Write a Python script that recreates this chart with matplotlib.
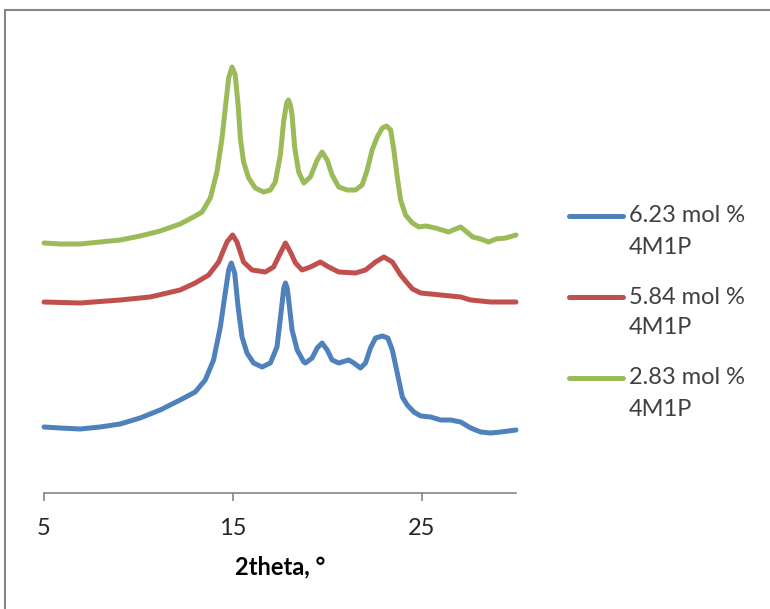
import matplotlib
matplotlib.use("Agg")
import matplotlib.pyplot as plt
from matplotlib.lines import Line2D
from matplotlib.patches import Rectangle

plt.rcParams['font.family'] = ['Lato', 'DejaVu Sans']

# ---- data ----
labels = ["6.23 mol %\n4M1P", "5.84 mol %\n4M1P", "2.83 mol %\n4M1P"]
colors = ["#4F81BD", "#C0504D", "#9BBB59"]

x_623 = [5.00, 5.85, 6.91, 7.97, 9.03, 10.09, 11.15, 12.21, 13.01, 13.54,
         13.98, 14.34, 14.60, 14.78, 14.92, 15.10, 15.28, 15.49, 15.75, 16.10,
         16.55, 16.99, 17.34, 17.57, 17.70, 17.79, 17.88, 17.96, 18.14, 18.41,
         18.76, 18.85, 19.20, 19.47, 19.73, 20.00, 20.26, 20.61, 21.14, 21.41,
         21.76, 22.03, 22.29, 22.56, 22.92, 23.21, 23.45, 23.71, 23.98, 24.24,
         24.59, 24.95, 25.48, 26.01, 26.54, 27.07, 27.60, 28.13, 28.66, 29.19,
         30.0]
y_623 = [66, 65, 64, 66, 69, 75, 83, 93, 101, 113,
         133, 166, 200, 223, 230, 220, 186, 156, 140, 130,
         126, 130, 146, 183, 205, 210, 205, 193, 163, 143,
         131, 130, 135, 145, 150, 143, 133, 130, 133, 130,
         125, 130, 145, 155, 157, 155, 143, 120, 96, 88,
         81, 77, 76, 73, 73, 71, 65, 61, 60, 61,
         63]

x_584 = [5.00, 6.91, 9.03, 10.62, 12.21, 13.01, 13.72, 14.25, 14.69, 14.99,
         15.22, 15.57, 16.02, 16.72, 17.16, 17.52, 17.79, 18.05, 18.32, 18.67,
         19.11, 19.64, 20.08, 20.61, 21.50, 22.03, 22.56, 23.00, 23.45, 23.89,
         24.24, 24.52, 24.95, 26.01, 27.07, 27.60, 28.66, 30.0]
y_584 = [191, 190, 193, 196, 203, 210, 218, 231, 251, 258,
         251, 231, 223, 221, 226, 240, 250, 241, 230, 223,
         226, 231, 226, 221, 220, 223, 231, 236, 231, 218,
         210, 204, 200, 198, 196, 193, 191, 191]

x_283 = [5.00, 5.85, 6.91, 7.97, 9.03, 10.09, 11.15, 12.21, 13.01, 13.37,
         13.81, 14.16, 14.43, 14.64, 14.78, 14.96, 15.13, 15.28, 15.40, 15.57,
         15.84, 16.19, 16.63, 16.99, 17.25, 17.52, 17.69, 17.85, 17.95, 18.05,
         18.14, 18.28, 18.49, 18.76, 19.11, 19.47, 19.73, 20.00, 20.26, 20.61,
         21.06, 21.50, 21.85, 22.12, 22.38, 22.65, 22.92, 23.14, 23.36, 23.53,
         23.71, 23.89, 24.15, 24.51, 24.86, 25.21, 25.74, 26.43, 26.80, 27.07,
         27.33, 27.71, 28.13, 28.55, 28.93, 29.46, 30.0]
y_283 = [250, 249, 249, 251, 253, 257, 262, 269, 277, 281,
         295, 321, 355, 391, 415, 426, 418, 388, 355, 331,
         315, 305, 301, 303, 311, 338, 371, 390, 393, 388,
         378, 345, 321, 310, 316, 333, 341, 333, 318, 306,
         303, 303, 308, 323, 343, 356, 365, 367, 363, 343,
         316, 293, 278, 270, 266, 267, 265, 261, 264, 266,
         262, 256, 254, 251, 254, 255, 258]

xticks = [5, 15, 25]
xlabel = "2theta, °"

# ---- figure ----
W, H = 770, 609
fig = plt.figure(figsize=(W / 100, H / 100), dpi=100)
fig.patch.set_facecolor("white")

ax = fig.add_axes([44 / W, 1 - 493 / H, (516 - 44) / W, (493 - 33) / H])
series = [(x_623, y_623), (x_584, y_584), (x_283, y_283)]
for (xs, ys), c in zip(series, colors):
    ax.plot(xs, ys, color=c, lw=3.6, solid_joinstyle="round",
            solid_capstyle="round", clip_on=False)

ax.set_xlim(5, 30)
ax.set_ylim(0, 460)
ax.set_xticks(xticks)
ax.set_xticklabels([str(t) for t in xticks])
ax.set_yticks([])
for sp in ["top", "right", "left"]:
    ax.spines[sp].set_visible(False)
ax.spines["bottom"].set_color("#868686")
ax.spines["bottom"].set_linewidth(1.2)
ax.tick_params(axis="x", direction="out", length=6, width=1.2,
               color="#868686", labelsize=17, labelcolor="#262626", pad=12)
ax.set_xlabel(xlabel, fontsize=17, fontweight="bold", color="#000000",
              labelpad=12)

# ---- legend (drawn manually to put the handle beside the first text line) ----
leg_y = [216, 297, 378]
for lab, c, yy in zip(labels, colors, leg_y):
    yf = 1 - yy / H
    fig.add_artist(Line2D([569 / W, 623 / W], [yf, yf], color=c, lw=3.6,
                          solid_capstyle="round", transform=fig.transFigure))
    first, second = lab.split("\n")
    fig.text(629 / W, yf, first, fontsize=17, color="#404040", va="center",
             ha="left")
    fig.text(629 / W, 1 - (yy + 31) / H, second, fontsize=17, color="#404040",
             va="center", ha="left")

# ---- chart border ----
fig.add_artist(Rectangle((5 / W, -0.2), 2.0, (H - 10) / H + 0.2, fill=False,
                         edgecolor="#868686", lw=1.5,
                         transform=fig.transFigure))

fig.savefig("out.png", dpi=100)
